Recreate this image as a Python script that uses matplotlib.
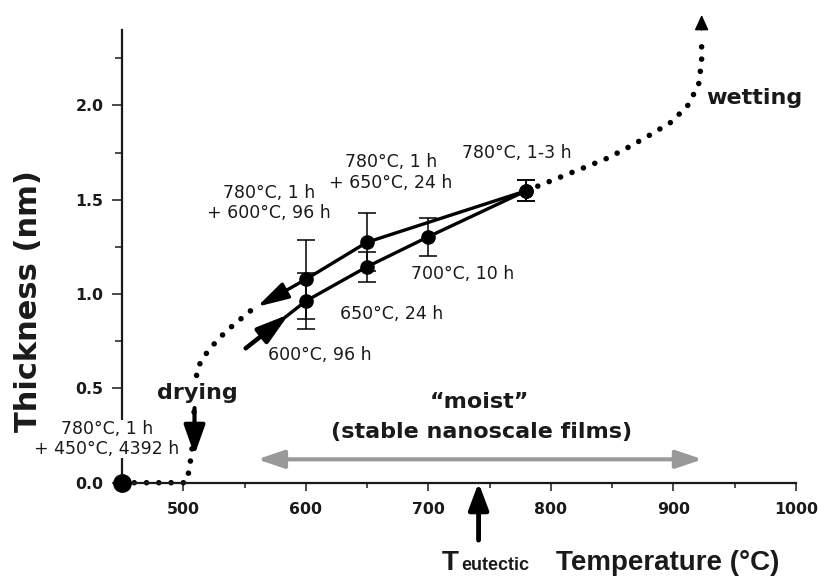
import matplotlib
matplotlib.use('Agg')
import matplotlib.pyplot as plt
import matplotlib.ticker as ticker

#------------------------------------------------
# measured thickness (nm) vs. annealing temperature (C)
heat_T = [600, 650, 700, 780]
heat_h = [0.963, 1.145, 1.304, 1.548]
heat_err = [0.15, 0.08, 0.10, 0.055]

cool_T = [780, 650, 600]
cool_h = [1.548, 1.275, 1.078]
cool_err = [0.055, 0.153, 0.21]

low_T = [450]
low_h = [0.0]

# dotted guide curves
dry_T = [450, 502, 503.9, 505.7, 507.5, 509, 511.2, 515.3, 521.3, 528.1, 535.2, 542.6, 550.8, 557.4]
dry_h = [0, 0, 0.037, 0.106, 0.2, 0.4, 0.598, 0.654, 0.707, 0.757, 0.804, 0.845, 0.889, 0.925]
wet_T = [780, 800, 825, 846, 864, 881, 898, 911.5, 920.5, 923, 923]
wet_h = [1.548, 1.60, 1.665, 1.72, 1.781, 1.844, 1.911, 1.998, 2.109, 2.232, 2.36]

# arrows
heat_start = (551, 0.713)
heat_head = (586, 0.892)
cool_tip = (560.3, 0.933)
wet_tip = (923, 2.48)
wet_tail = (923, 2.40)
dry_from = (509.2, 0.396)
dry_to = (509.2, 0.147)
t_eut = 741
eut_tail = -0.304
moist_left = 560.4
moist_right = 923.8
moist_y = 0.124

# condition labels
cond_text = ["780°C, 1 h\n+ 450°C, 4392 h", "780°C, 1 h\n+ 600°C, 96 h",
             "780°C, 1 h\n+ 650°C, 24 h", "780°C, 1-3 h", "700°C, 10 h",
             "650°C, 24 h", "600°C, 96 h"]
cond_pos = [(437.7, 0.232), (569.7, 1.483), (669.4, 1.646), (772.5, 1.746),
            (727.7, 1.107), (669.7, 0.894), (611.3, 0.677)]

x_ticks = [500, 600, 700, 800, 900, 1000]
y_ticks = [0.0, 0.5, 1.0, 1.5, 2.0]

#------------------------------------------------
plt.rcParams['font.family'] = ['DejaVu Sans']
ink = '#1a1a1a'

fig = plt.figure(figsize=(8.18, 5.77), dpi=100, facecolor='white')
ax = fig.add_axes([0.1491, 0.1634, 0.824, 0.7846])
ax.set_xlim(450, 1000)
ax.set_ylim(0, 2.4)
ax.spines['top'].set_visible(False)
ax.spines['right'].set_visible(False)
for s in ['left', 'bottom']:
    ax.spines[s].set_linewidth(1.6)
    ax.spines[s].set_color(ink)

ax.set_xticks(x_ticks)
ax.set_yticks(y_ticks)
ax.xaxis.set_minor_locator(ticker.MultipleLocator(50))
ax.yaxis.set_minor_locator(ticker.MultipleLocator(0.25))
ax.yaxis.set_major_formatter(ticker.FormatStrFormatter('%.1f'))
ax.tick_params(axis='x', which='major', length=5.8, width=1.1, pad=8, colors=ink)
ax.tick_params(axis='x', which='minor', length=3.6, width=1.1, colors=ink)
ax.tick_params(axis='y', which='major', length=7.2, width=1.1, pad=6, colors=ink)
ax.tick_params(axis='y', which='minor', length=4.8, width=1.1, colors=ink)
for lab in ax.get_xticklabels() + ax.get_yticklabels():
    lab.set_fontweight('bold')
    lab.set_fontsize(11.3)

# dotted guides
dot_style = dict(color='k', lw=4, linestyle=(0, (0.01, 2.2)),
                 dash_capstyle='round', clip_on=False, zorder=2)
ax.plot(dry_T, dry_h, **dot_style)
ax.plot(wet_T, wet_h, **dot_style)

# heating / cooling branches
ax.plot([heat_start[0]] + heat_T, [heat_start[1]] + heat_h, color='k', lw=2.4, zorder=3)
ax.plot(cool_T, cool_h, color='k', lw=2.4, zorder=3)
ax.errorbar(heat_T, heat_h, yerr=heat_err, fmt='o', color='k', ms=9.5,
            capsize=6.5, elinewidth=1.1, capthick=1.1, zorder=4)
ax.errorbar(cool_T, cool_h, yerr=cool_err, fmt='o', color='k', ms=9.5,
            capsize=6.5, elinewidth=1.1, capthick=1.1, zorder=4)
ax.plot(low_T, low_h, 'o', color='k', ms=12.5, clip_on=False, zorder=8)

def arrow(tip, tail, style, ms, lw, color='k'):
    ax.annotate('', xy=tip, xytext=tail, annotation_clip=False,
                arrowprops=dict(arrowstyle=style, mutation_scale=ms, lw=lw,
                                color=color, shrinkA=0, shrinkB=0), zorder=6)

arrow(heat_head, heat_start, '-|>,head_length=0.8,head_width=0.24', 24, 3.2)
arrow(cool_tip, (cool_T[-1], cool_h[-1]), '-|>,head_length=0.8,head_width=0.22', 24, 2.4)
arrow(dry_to, dry_from, '-|>,head_length=0.9,head_width=0.32', 20, 3)
arrow((t_eut, 0), (t_eut, eut_tail), '-|>,head_length=0.8,head_width=0.3', 20, 3.5)
arrow((moist_right, moist_y), (moist_left, moist_y),
      '<|-|>,head_length=0.8,head_width=0.27', 20, 3, color='#999999')
arrow(wet_tip, wet_tail, '-|>,head_length=0.94,head_width=0.43', 10, 1)

# annotations
for i, (txt, (x, y)) in enumerate(zip(cond_text, cond_pos)):
    t = ax.text(x, y, txt, ha='center', va='center', multialignment='center',
                fontsize=12.5, color=ink, linespacing=1.2, zorder=7)
    if i == 0:
        t.set_bbox(dict(fc='white', ec='none', pad=0))

big = dict(fontsize=16, fontweight='bold', color=ink, ha='center', va='center', zorder=7)
ax.text(511.9, 0.476, 'drying', bbox=dict(fc='white', ec='none', pad=1), **big)
ax.text(966.1, 2.04, 'wetting', **big)
ax.text(741.4, 0.43, '\u201cmoist\u201d', **big)
ax.text(743.4, 0.27, '(stable nanoscale films)', **big)

# axis titles
fig.text(28.5 / 818, 1 - 301.5 / 577, 'Thickness (nm)', rotation=90, ha='center',
         va='center', fontsize=22, fontweight='bold', color=ink)
fig.text(667.5 / 818, 1 - 570 / 577, 'Temperature (°C)', ha='center', va='baseline',
         fontsize=20, fontweight='bold', color=ink, family='Liberation Sans')
fig.text(441.7 / 818, 1 - 570 / 577, 'T', ha='left', va='baseline',
         fontsize=20, fontweight='bold', color=ink, family='Liberation Sans')
fig.text(461.7 / 818, 1 - 570 / 577, 'eutectic', ha='left', va='baseline',
         fontsize=13, fontweight='bold', color=ink, family='Liberation Sans')

fig.savefig('out.png', dpi=100)
